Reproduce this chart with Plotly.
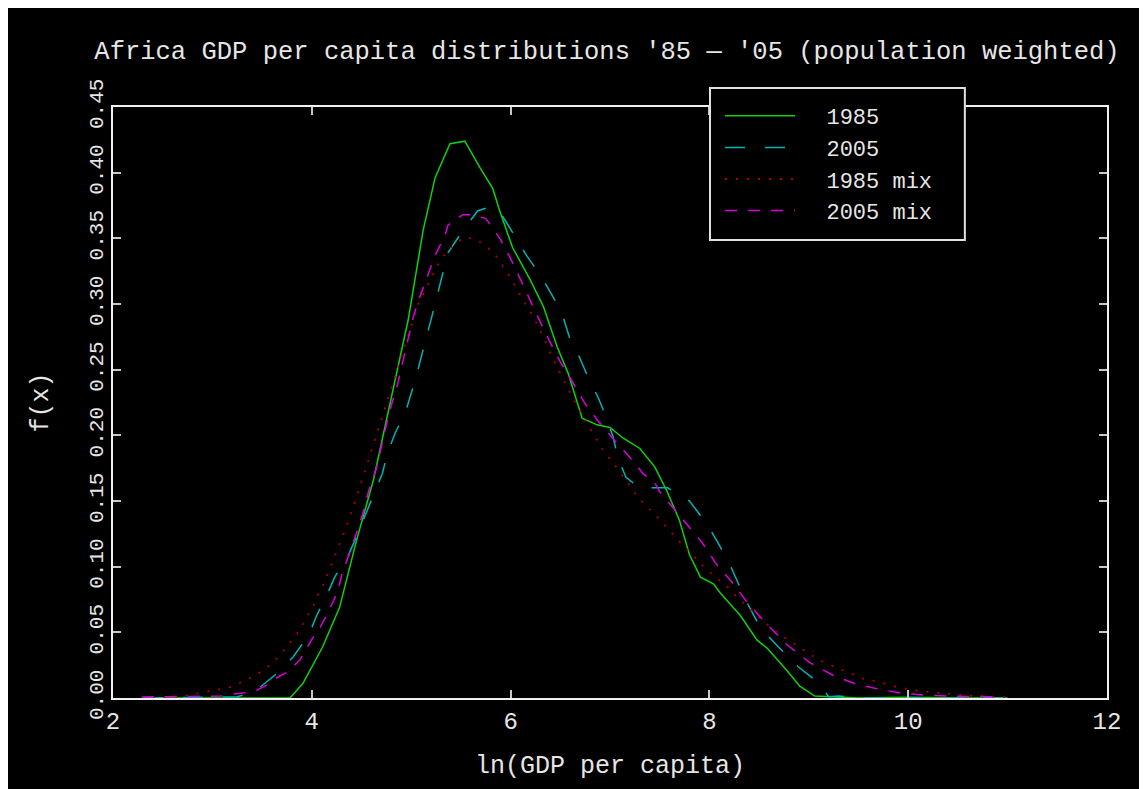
import plotly.graph_objects as go

# ---- data ----
x_1985 = [2.3, 3.0, 3.5, 3.78, 3.91, 4.11, 4.28, 4.45, 4.62, 4.75, 4.84, 4.97, 5.12, 5.24, 5.39, 5.54,
          5.69, 5.82, 5.89, 6.02, 6.20, 6.33, 6.47, 6.58, 6.72, 6.87, 7.00, 7.13, 7.30, 7.45, 7.57,
          7.70, 7.80, 7.91, 8.04, 8.11, 8.31, 8.48, 8.58, 8.78, 8.91, 9.06, 9.5, 10.0, 10.5, 11.0]
y_1985 = [0.0, 0.0, 0.0, 0.0, 0.011, 0.039, 0.069, 0.120, 0.166, 0.212, 0.242, 0.288, 0.356, 0.396, 0.422, 0.424,
          0.404, 0.388, 0.371, 0.343, 0.318, 0.298, 0.267, 0.247, 0.213, 0.208, 0.206, 0.198, 0.190, 0.176, 0.158,
          0.135, 0.109, 0.092, 0.087, 0.080, 0.063, 0.044, 0.038, 0.021, 0.009, 0.0015, 0.0, 0.0005, 0.0, 0.0]

x_2005 = [2.3, 2.8, 3.25, 3.41, 3.63, 3.81, 3.97, 4.05, 4.15, 4.23, 4.37, 4.45, 4.55, 4.62, 4.71, 4.76,
          4.84, 4.94, 5.04, 5.22, 5.32, 5.37, 5.52, 5.67, 5.80, 5.91, 6.04, 6.16, 6.30, 6.43, 6.52,
          6.59, 6.69, 6.78, 6.88, 6.96, 7.03, 7.08, 7.16, 7.30, 7.58, 7.80, 7.91, 7.98, 8.11, 8.21,
          8.31, 8.39, 8.51, 8.68, 8.89, 9.09, 9.2, 9.3, 9.5, 10.0, 11.0]
y_2005 = [0.0, 0.0005, 0.001, 0.004, 0.0175, 0.031, 0.048, 0.063, 0.078, 0.092, 0.109, 0.123, 0.141, 0.154, 0.171, 0.186,
          0.202, 0.217, 0.242, 0.294, 0.324, 0.339, 0.356, 0.371, 0.374, 0.368, 0.352, 0.337, 0.322, 0.305, 0.292,
          0.275, 0.260, 0.244, 0.229, 0.214, 0.199, 0.183, 0.168, 0.160, 0.160, 0.150, 0.139, 0.132, 0.115, 0.101,
          0.084, 0.071, 0.054, 0.040, 0.024, 0.012, 0.001, 0.0015, 0.0, 0.0, 0.0]

x_1985mix = [2.29, 2.64, 2.76, 2.88, 2.99, 3.10, 3.21, 3.32, 3.44, 3.56, 3.66, 3.75, 3.82, 3.90, 3.95, 4.01,
             4.05, 4.11, 4.19, 4.27, 4.35, 4.45, 4.55, 4.62, 4.71, 4.81, 5.07, 5.17, 5.27, 5.34, 5.43,
             5.54, 5.66, 5.77, 5.86, 6.00, 6.11, 6.23, 6.33, 6.42, 6.52, 6.63, 6.80, 6.92, 7.07, 7.22,
             7.29, 7.5, 7.7, 7.97, 8.08, 8.19, 8.30, 8.41, 8.52, 8.63, 8.74, 8.86, 8.97, 9.08, 9.19,
             9.31, 9.42, 9.53, 9.66, 9.77, 9.88, 9.99, 10.11, 10.22, 10.33, 10.44, 10.67, 10.9, 11.0]
y_1985mix = [0.0, 0.001, 0.0023, 0.004, 0.005, 0.007, 0.009, 0.013, 0.0175, 0.024, 0.031, 0.039, 0.046, 0.054, 0.062, 0.069,
             0.077, 0.085, 0.100, 0.116, 0.131, 0.153, 0.177, 0.193, 0.215, 0.238, 0.300, 0.315, 0.330, 0.338, 0.345,
             0.351, 0.349, 0.343, 0.336, 0.320, 0.305, 0.290, 0.275, 0.259, 0.244, 0.228, 0.205, 0.190, 0.175, 0.159,
             0.152, 0.136, 0.119, 0.098, 0.091, 0.084, 0.075, 0.068, 0.060, 0.053, 0.047, 0.041, 0.035, 0.030, 0.026,
             0.022, 0.019, 0.015, 0.013, 0.011, 0.0084, 0.0068, 0.0053, 0.0046, 0.0038, 0.003, 0.0015, 0.001, 0.0005]

x_2005mix = [2.29, 2.6, 3.10, 3.21, 3.31, 3.45, 3.55, 3.66, 3.76, 3.88, 3.93, 4.01, 4.05, 4.15, 4.23, 4.26,
             4.31, 4.38, 4.46, 4.52, 4.57, 4.65, 4.72, 4.78, 4.86, 5.02, 5.09, 5.17, 5.24, 5.34, 5.37,
             5.52, 5.62, 5.75, 5.82, 5.90, 6.01, 6.11, 6.20, 6.30, 6.39, 6.50, 6.62, 6.75, 6.89, 7.07,
             7.24, 7.33, 7.45, 7.50, 7.7, 7.93, 8.07, 8.23, 8.39, 8.58, 8.79, 9.01, 9.24, 9.46, 9.70,
             9.92, 10.15, 10.39, 10.94]
y_2005mix = [0.0008, 0.001, 0.0015, 0.003, 0.0038, 0.006, 0.010, 0.016, 0.020, 0.029, 0.035, 0.046, 0.049, 0.063, 0.076, 0.081,
             0.096, 0.110, 0.128, 0.142, 0.157, 0.175, 0.198, 0.218, 0.238, 0.290, 0.306, 0.322, 0.337, 0.352, 0.360,
             0.368, 0.368, 0.365, 0.358, 0.349, 0.333, 0.317, 0.302, 0.286, 0.272, 0.256, 0.241, 0.224, 0.210, 0.194,
             0.180, 0.171, 0.164, 0.157, 0.139, 0.118, 0.102, 0.088, 0.072, 0.056, 0.040, 0.027, 0.0175, 0.011, 0.0068,
             0.0038, 0.0023, 0.0015, 0.0008]

series_names = ["1985", "2005", "1985 mix", "2005 mix"]
x_ticks = [2, 4, 6, 8, 10, 12]
y_ticks = [0.00, 0.05, 0.10, 0.15, 0.20, 0.25, 0.30, 0.35, 0.40, 0.45]

FONT = "Liberation Mono"
TXT = "#e6e6e6"
PAD = "\u00a0\u00a0"  # visual gap between legend sample and label

fig = go.Figure()
fig.add_trace(go.Scatter(x=x_1985, y=y_1985, mode="lines", name=PAD + series_names[0],
                         line=dict(color="#10d010", width=1.5)))
fig.add_trace(go.Scatter(x=x_2005, y=y_2005, mode="lines", name=PAD + series_names[1],
                         line=dict(color="#00b4b4", width=1.5, dash="20px,20px")))
fig.add_trace(go.Scatter(x=x_1985mix, y=y_1985mix, mode="lines", name=PAD + series_names[2],
                         line=dict(color="#b00000", width=1.8, dash="2px,9px")))
fig.add_trace(go.Scatter(x=x_2005mix, y=y_2005mix, mode="lines", name=PAD + series_names[3],
                         line=dict(color="#d800d8", width=1.5, dash="12px,11px")))

# legend frame (drawn as a shape so its size can match the reference)
fig.add_shape(type="rect", xref="paper", yref="paper",
              x0=0.6006, x1=0.857, y0=0.775, y1=1.032,
              line=dict(color="#e0e0e0", width=2), fillcolor="black", layer="above")

fig.update_layout(
    width=1147, height=789,
    paper_bgcolor="black", plot_bgcolor="black",
    margin=dict(l=105, r=48, t=99, b=99),
    font=dict(family=FONT, color=TXT, size=24),
    title=dict(text="Africa GDP per capita distributions '85 \u2014 '05 (population weighted)",
               x=599 / 1147, xref="container", xanchor="center",
               y=1 - 42 / 789, yref="container", yanchor="middle",
               font=dict(family=FONT, size=25.5, color=TXT)),
    legend=dict(x=0.6107, xanchor="left", y=1.0203, yanchor="top",
                bgcolor="rgba(0,0,0,0)", borderwidth=0,
                font=dict(family=FONT, size=22, color=TXT),
                itemwidth=70, tracegroupgap=0),
    showlegend=True,
)

fig.update_xaxes(range=[2, 12], tickvals=x_ticks, ticktext=[str(v) for v in x_ticks],
                 showgrid=False, zeroline=False,
                 showline=True, linecolor="#f0f0f0", linewidth=2, mirror="ticks",
                 ticks="inside", ticklen=8, tickcolor="#c8c8c8", tickwidth=2,
                 tickfont=dict(family=FONT, size=24, color=TXT),
                 title=dict(text="ln(GDP per capita)", font=dict(family=FONT, size=25, color=TXT), standoff=21))
fig.update_yaxes(range=[0, 0.45], tickvals=y_ticks, ticktext=["%.2f" % v for v in y_ticks],
                 showgrid=False, zeroline=False,
                 showline=True, linecolor="#f0f0f0", linewidth=2, mirror="ticks",
                 ticks="inside", ticklen=8, tickcolor="#c8c8c8", tickwidth=2, tickangle=-90,
                 tickfont=dict(family=FONT, size=21, color=TXT),
                 title=dict(text="f(x)", font=dict(family=FONT, size=25, color=TXT), standoff=30))

fig.write_html("out.html")
